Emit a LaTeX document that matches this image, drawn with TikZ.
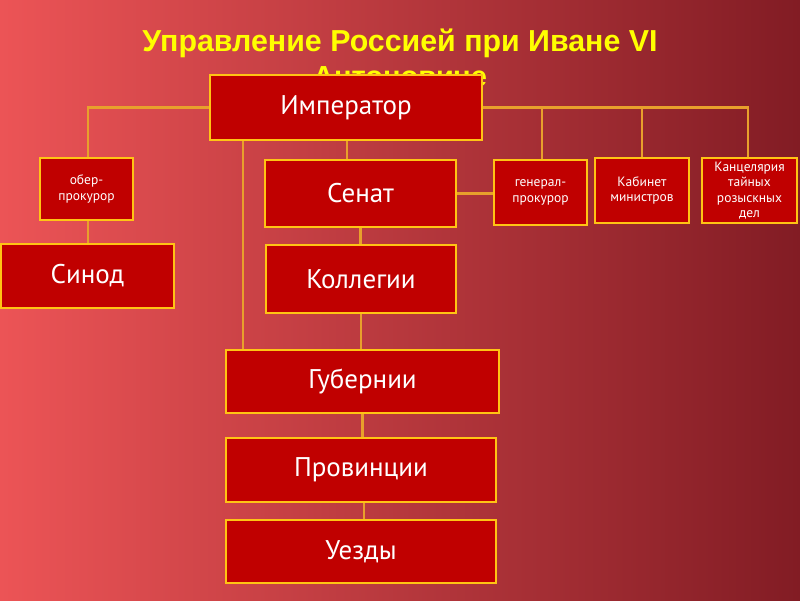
\documentclass[tikz,border=0pt]{standalone}
\usepackage{fontspec}
\setmainfont{PT Sans}
\newfontfamily\titlefont{Liberation Sans}
\definecolor{bgL}{RGB}{236,84,86}
\definecolor{bgM}{RGB}{186,52,58}
\definecolor{bgR}{RGB}{130,28,36}
\definecolor{boxfill}{RGB}{192,0,0}
\definecolor{boxedge}{RGB}{255,196,20}
\definecolor{linkcol}{RGB}{232,160,44}
\definecolor{titlecol}{RGB}{255,255,0}
\pgfdeclarelayer{bg}
\pgfdeclarelayer{links}
\pgfsetlayers{bg,links,main}
\tikzset{
  orgbox/.style={draw=boxedge, line width=2.6pt, fill=boxfill, text=white,
    inner sep=1pt, outer sep=0pt, align=center, font=\fontsize{27}{29}\selectfont},
  smallbox/.style={orgbox, font=\fontsize{13.5}{15.5}\selectfont},
  link/.style={draw=linkcol, line width=2.3pt},
}
\begin{document}
\begin{tikzpicture}[x=1pt,y=-1pt]
\useasboundingbox (0,0) rectangle (800,600);
\begin{pgfonlayer}{bg}
\shade[left color=bgL, middle color=bgM, right color=bgR] (0,0) rectangle (800,600);
\end{pgfonlayer}
% title
\node[anchor=base, text=titlecol, inner sep=0pt] (t1) at (400,51)
  {\resizebox{515pt}{!}{\titlefont\bfseries Управление Россией при Иване VI}};
\node[anchor=base, text=titlecol, inner sep=0pt, font=\titlefont\bfseries\fontsize{29}{30}\selectfont] (t2) at (400,86) {Антоновиче};
% boxes
\node[orgbox, minimum width=272pt, minimum height=65pt] (imp) at (346,107.5) {Император};
\node[smallbox, minimum width=93pt, minimum height=62pt] (ober) at (86.5,189) {обер-\\прокурор};
\node[orgbox, minimum width=173pt, minimum height=64pt] (sinod) at (87.5,276) {Синод};
\node[orgbox, minimum width=191pt, minimum height=67pt] (senat) at (360.5,193.5) {Сенат};
\node[smallbox, minimum width=93pt, minimum height=65pt] (gen) at (540.5,192.5) {генерал-\\прокурор};
\node[smallbox, minimum width=94pt, minimum height=65pt] (kab) at (642,190.5) {Кабинет\\министров};
\node[smallbox, minimum width=95pt, minimum height=65pt] (kanc) at (749.5,190.5) {Канцелярия\\тайных\\розыскных\\дел};
\node[orgbox, minimum width=190pt, minimum height=68pt] (koll) at (361,279) {Коллегии};
\node[orgbox, minimum width=273pt, minimum height=63pt] (gub) at (362.5,381.5) {Губернии};
\node[orgbox, minimum width=270pt, minimum height=64pt] (prov) at (361,470) {Провинции};
\node[orgbox, minimum width=270pt, minimum height=63pt] (uezd) at (361,551.5) {Уезды};
% connectors
\begin{pgfonlayer}{links}
\coordinate (impL) at ([xshift=33pt]imp.south west);
\coordinate (impC) at ([xshift=1pt]imp.south);
\draw[link] (imp.west) -| ([xshift=1.5pt]ober.north);
\draw[link] (imp.east) -| ([xshift=-1.5pt]kanc.north);
\draw[link] ([xshift=1.5pt]gen.north) -- ([xshift=1.5pt]gen.north |- imp.east);
\draw[link] (kab.north) -- (kab.north |- imp.east);
\draw[link] (impC) -- (impC |- senat.north);
\draw[link] (impL) -- (impL |- gub.north);
\draw[link] (senat.east) -- (senat.east -| gen.west);
\draw[link] ([xshift=1.5pt]ober.south) -- ([xshift=1.5pt]ober.south |- sinod.north);
\draw[link] (senat.south) -- (senat.south |- koll.north);
\draw[link] (koll.south) -- (koll.south |- gub.north);
\draw[link] (gub.south) -- (gub.south |- prov.north);
\draw[link] ([xshift=3pt]prov.south) -- ([xshift=3pt]prov.south |- uezd.north);
\end{pgfonlayer}
\end{tikzpicture}
\end{document}
